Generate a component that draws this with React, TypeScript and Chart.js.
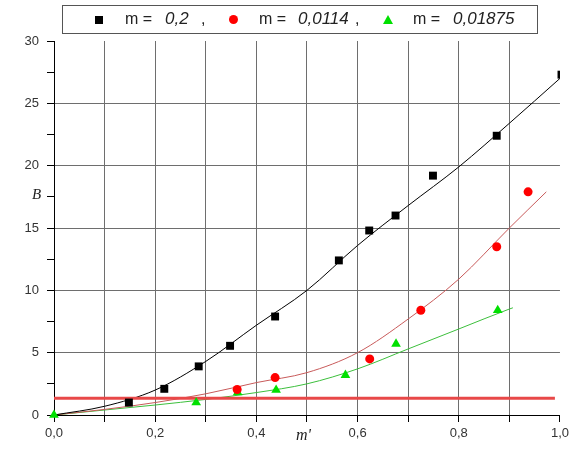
import React, { useEffect, useRef } from "react";
import { Chart, registerables } from "chart.js";

Chart.register(...registerables);

// Measured points
const blackX = [0.148, 0.218, 0.286, 0.348, 0.437, 0.563, 0.623, 0.675, 0.749, 0.875, 1.003];
const blackY = [1.0, 2.1, 3.9, 5.55, 7.9, 12.4, 14.8, 16.0, 19.2, 22.4, 27.3];
const redX = [0.362, 0.437, 0.624, 0.725, 0.875, 0.937];
const redY = [2.05, 3.0, 4.5, 8.4, 13.5, 17.9];
const greenX = [0, 0.281, 0.363, 0.439, 0.576, 0.676, 0.877];
const greenY = [0, 1.0, 1.8, 2.0, 3.2, 5.7, 8.4];

// Fit curves
const blackFitX = [0, 0.1, 0.2, 0.3, 0.4, 0.5, 0.6, 0.7, 0.8, 0.9, 1.0];
const blackFitY = [0, 0.7, 2.0, 4.3, 7.2, 10.0, 13.6, 16.8, 19.9, 23.4, 27.0];
const redFitX = [0, 0.1, 0.2, 0.3, 0.4, 0.5, 0.6, 0.7, 0.8, 0.9, 0.973];
const redFitY = [0, 0.45, 1.0, 1.7, 2.6, 3.4, 5.0, 7.7, 10.9, 15.0, 17.9];
const greenFitX = [0, 0.1, 0.2, 0.3, 0.4, 0.5, 0.6, 0.7, 0.8, 0.9, 0.907];
const greenFitY = [0, 0.4, 0.8, 1.25, 1.8, 2.5, 3.7, 5.3, 6.9, 8.5, 8.6];

// Horizontal reference line
const hLineX = [0, 0.99];
const hLineY = [1.34, 1.34];

// Axis settings
const xMin = 0, xMax = 1.0, xStep = 0.1;
const yMin = 0, yMax = 30, yStep = 2.5;

// Legend
const legendLabels = ["0,2", "0,0114", "0,01875"];

const zip = (xs: number[], ys: number[]) => xs.map((x, i) => ({ x, y: ys[i] }));

export default function App() {
  const ref = useRef<HTMLCanvasElement | null>(null);

  useEffect(() => {
    if (!ref.current) return;
    const tickFont = { family: "'Liberation Sans', Arial, sans-serif", size: 13 };
    const chart = new Chart(ref.current, {
      type: "scatter",
      data: {
        datasets: [
          {
            data: zip(blackX, blackY),
            pointStyle: "rect",
            pointRadius: 5.6,
            backgroundColor: "#000",
            borderColor: "#000",
            borderWidth: 0,
            clip: 0,
          },
          {
            data: zip(redX, redY),
            pointStyle: "circle",
            pointRadius: 4.5,
            backgroundColor: "#ff0000",
            borderColor: "#ff0000",
            borderWidth: 0,
          },
          {
            data: zip(greenX, greenY),
            pointStyle: "triangle",
            pointRadius: 5.6,
            backgroundColor: "#00e000",
            borderColor: "#00e000",
            borderWidth: 0,
            clip: false,
          },
          {
            data: zip(hLineX, hLineY),
            showLine: true,
            pointRadius: 0,
            borderColor: "#e84848",
            borderWidth: 3,
          },
          {
            data: zip(blackFitX, blackFitY),
            showLine: true,
            pointRadius: 0,
            borderColor: "#000",
            borderWidth: 1,
            cubicInterpolationMode: "monotone",
          },
          {
            data: zip(redFitX, redFitY),
            showLine: true,
            pointRadius: 0,
            borderColor: "#c85a5a",
            borderWidth: 1,
            cubicInterpolationMode: "monotone",
          },
          {
            data: zip(greenFitX, greenFitY),
            showLine: true,
            pointRadius: 0,
            borderColor: "#3cbf3c",
            borderWidth: 1,
            cubicInterpolationMode: "monotone",
          },
        ],
      },
      options: {
        animation: false,
        responsive: false,
        maintainAspectRatio: false,
        layout: { padding: { top: 41, right: 11, left: 0, bottom: 0 } },
        plugins: { legend: { display: false }, tooltip: { enabled: false } },
        scales: {
          x: {
            type: "linear",
            min: xMin,
            max: xMax,
            afterFit: (s: any) => { s.height = 35; },
            border: { color: "#000", width: 1 },
            grid: {
              color: (c: any) => {
                const v = Math.round((c.tick?.value ?? 0) * 10);
                return v === 0 || v === 10 ? "rgba(0,0,0,0)" : "#6e6e6e";
              },
              tickColor: "#000",
              tickLength: 7,
              lineWidth: 1,
            },
            ticks: {
              stepSize: xStep,
              autoSkip: false,
              maxRotation: 0,
              padding: 4,
              color: "#333",
              font: tickFont,
              callback: (v: any) => {
                const n = Math.round(Number(v) * 10);
                return n % 2 === 0 ? (n / 10).toFixed(1).replace(".", ",") : "";
              },
            },
          },
          y: {
            type: "linear",
            min: yMin,
            max: yMax,
            afterFit: (s: any) => { s.width = 54; },
            border: { color: "#000", width: 1 },
            grid: {
              color: (c: any) => {
                const v = c.tick?.value ?? 0;
                return v % 5 === 0 && v !== 0 && v !== 30 ? "#6e6e6e" : "rgba(0,0,0,0)";
              },
              tickColor: "#000",
              tickLength: 7,
              lineWidth: 1,
            },
            ticks: {
              stepSize: yStep,
              autoSkip: false,
              padding: 8,
              color: "#333",
              font: tickFont,
              callback: (v: any) => (Number(v) % 5 === 0 ? String(v) : ""),
            },
          },
        },
      },
    });
    return () => chart.destroy();
  }, []);

  const textStyle: React.CSSProperties = {
    position: "absolute",
    top: 9,
    fontFamily: "'Liberation Sans', Arial, sans-serif",
    fontSize: 16,
    color: "#222",
    lineHeight: "20px",
    whiteSpace: "nowrap",
  };
  const italic: React.CSSProperties = { ...textStyle, fontStyle: "italic", fontSize: 17 };

  return (
    <div style={{ position: "absolute", left: 0, top: 0, width: 573, height: 450, background: "#fff", overflow: "hidden" }}>
      <canvas ref={ref} width={573} height={450} style={{ position: "absolute", left: 0, top: 0 }} />
      <div style={{ position: "absolute", left: 62, top: 5, width: 474, height: 27, border: "1px solid #555" }} />
      <div style={{ position: "absolute", left: 95, top: 16, width: 8, height: 8, background: "#000" }} />
      <span style={{ ...textStyle, left: 125 }}>m =</span>
      <span style={{ ...italic, left: 165 }}>{legendLabels[0]}</span>
      <span style={{ ...textStyle, left: 201 }}>,</span>
      <div style={{ position: "absolute", left: 229, top: 15, width: 9, height: 9, borderRadius: "50%", background: "#ff0000" }} />
      <span style={{ ...textStyle, left: 259 }}>m =</span>
      <span style={{ ...italic, left: 298 }}>{legendLabels[1]}</span>
      <span style={{ ...textStyle, left: 355 }}>,</span>
      <div style={{ position: "absolute", left: 383, top: 15, width: 0, height: 0, borderLeft: "5px solid transparent", borderRight: "5px solid transparent", borderBottom: "9px solid #00e000" }} />
      <span style={{ ...textStyle, left: 413 }}>m =</span>
      <span style={{ ...italic, left: 453 }}>{legendLabels[2]}</span>
      <span style={{ position: "absolute", left: 32, top: 186, fontFamily: "'Liberation Serif', 'Times New Roman', serif", fontStyle: "italic", fontSize: 15, color: "#222" }}>B</span>
      <span style={{ position: "absolute", left: 296, top: 426, fontFamily: "'Liberation Serif', 'Times New Roman', serif", fontStyle: "italic", fontSize: 16, color: "#222" }}>m'</span>
    </div>
  );
}
